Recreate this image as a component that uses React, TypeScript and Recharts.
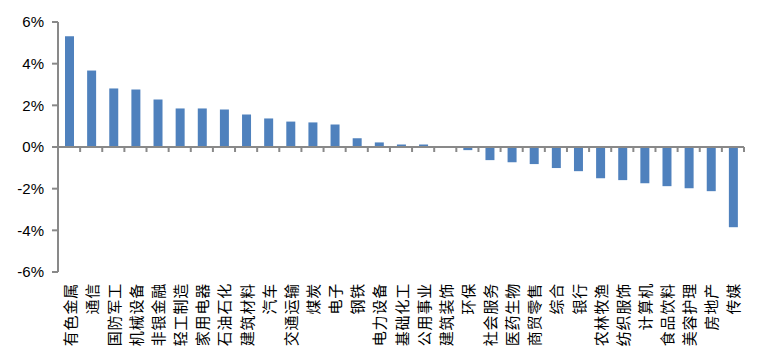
import { BarChart, Bar, XAxis, YAxis, ReferenceLine } from 'recharts'

const categories = [
  '有色金属', '通信', '国防军工', '机械设备', '非银金融', '轻工制造', '家用电器', '石油石化',
  '建筑材料', '汽车', '交通运输', '煤炭', '电子', '钢铁', '电力设备', '基础化工', '公用事业',
  '建筑装饰', '环保', '社会服务', '医药生物', '商贸零售', '综合', '银行', '农林牧渔',
  '纺织服饰', '计算机', '食品饮料', '美容护理', '房地产', '传媒',
]
const changes = [
  5.32, 3.67, 2.81, 2.76, 2.28, 1.85, 1.85, 1.8, 1.56, 1.37, 1.22, 1.18, 1.08, 0.42, 0.22,
  0.12, 0.12, 0.01, -0.15, -0.63, -0.73, -0.82, -1.01, -1.16, -1.5, -1.59, -1.74, -1.88,
  -1.98, -2.12, -3.85,
]
const yTicks = [-6, -4, -2, 0, 2, 4, 6]

const AXIS = '#898989'

const data = categories.map((name, i) => ({ name, value: changes[i] }))

function CategoryTick(props: any) {
  const { x, y, payload } = props
  return (
    <text
      x={x}
      y={y}
      transform={`rotate(-90 ${x} ${y})`}
      textAnchor="end"
      dominantBaseline="central"
      fontSize={15}
      letterSpacing={0.8}
      fontFamily="'Noto Sans CJK SC', sans-serif"
      fill="#000"
    >
      {payload.value}
    </text>
  )
}

// zero line with category-boundary tick marks hanging below it
function ZeroAxis(props: any) {
  const { x1, y1, x2 } = props
  const step = (x2 - x1) / categories.length
  return (
    <g>
      <line x1={x1} y1={y1} x2={x2} y2={y1} stroke={AXIS} strokeWidth={2} />
      {categories.map((c, i) => (
        <line key={c} x1={x1 + step * (i + 1)} x2={x1 + step * (i + 1)} y1={y1} y2={y1 + 5} stroke={AXIS} strokeWidth={2} />
      ))}
    </g>
  )
}

export default function App() {
  return (
    <div style={{ position: 'absolute', left: 0, top: 0 }}>
      <BarChart width={768} height={362} data={data} margin={{ top: 22, right: 24, bottom: 0, left: 0 }}>
        <XAxis
          dataKey="name"
          interval={0}
          height={90}
          axisLine={false}
          tickLine={false}
          tickSize={6}
          tickMargin={5}
          tick={<CategoryTick />}
        />
        <YAxis
          width={58}
          domain={[-6, 6]}
          ticks={yTicks}
          tickFormatter={(v: number) => `${v}%`}
          axisLine={{ stroke: AXIS, strokeWidth: 2 }}
          tickLine={{ stroke: AXIS, strokeWidth: 2 }}
          tickSize={6}
          tickMargin={8}
          tick={{ fill: '#000', fontSize: 15, fontFamily: "'Liberation Sans', Arial, sans-serif" }}
        />
        <Bar dataKey="value" fill="#4F81BD" barSize={9} isAnimationActive={false} />
        <ReferenceLine y={0} shape={<ZeroAxis />} />
      </BarChart>
    </div>
  )
}
